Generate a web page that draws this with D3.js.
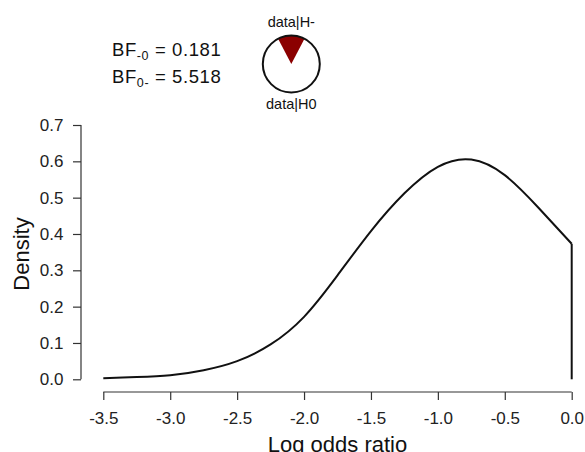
<!DOCTYPE html>
<html>
<head>
<meta charset="utf-8">
<script src="https://cdn.jsdelivr.net/npm/d3@7"></script>
<style>
  body { margin: 0; background: #fff; }
  svg { font-family: "Liberation Sans", Arial, sans-serif; }
</style>
</head>
<body>
<svg id="chart" width="585" height="452"></svg>
<script>
// posterior density
const logOdds = [-3.5, -3.25, -3.0, -2.75, -2.5, -2.25, -2.0, -1.75, -1.5, -1.25, -1.0, -0.75, -0.5, -0.25, 0.0];
const density = [0.003, 0.006, 0.011, 0.025, 0.05, 0.096, 0.172, 0.286, 0.408, 0.512, 0.585, 0.605, 0.562, 0.473, 0.373];
const xTicks = [-3.5, -3.0, -2.5, -2.0, -1.5, -1.0, -0.5, 0.0];
const yTicks = [0.0, 0.1, 0.2, 0.3, 0.4, 0.5, 0.6, 0.7];
const bfLabels = [{sub: "-0", value: "0.181"}, {sub: "0-", value: "5.518"}];
const pieLabels = ["data|H-", "data|H0"];
const bfMinus0 = 0.181;

const svg = d3.select("#chart");
const x = d3.scaleLinear().domain([-3.5, 0]).range([103.3, 571.7]);
const y = d3.scaleLinear().domain([0, 0.7]).range([379.3, 125]);
const fmt = d => d.toFixed(1); // plain hyphen minus like the original

// x axis, ticks pointing down
const xAxis = svg.append("g").attr("transform", "translate(0,392)")
    .call(d3.axisBottom(x).tickValues(xTicks).tickSize(8).tickPadding(12).tickFormat(fmt));
// y axis, ticks pointing left
const yAxis = svg.append("g").attr("transform", "translate(81,0)")
    .call(d3.axisLeft(y).tickValues(yTicks).tickSize(8).tickPadding(9.5).tickFormat(fmt));

[xAxis, yAxis].forEach(g => {
    g.select(".domain").attr("stroke", "#333").attr("stroke-width", 1.2);
    g.selectAll(".tick line").attr("stroke", "#333").attr("stroke-width", 1.2);
    g.selectAll(".tick text").attr("fill", "#222").style("font-size", "17px")
        .style("font-family", "'Liberation Sans', Arial, sans-serif");
});
// d3 adds outer ticks to the domain path; redraw it as plain line
xAxis.select(".domain").attr("d", `M${x(-3.5)},0H${x(0)}`);
yAxis.select(".domain").attr("d", `M0,${y(0)}V${y(0.7)}`);

// axis titles
svg.append("text")
    .attr("x", x(-1.75)).attr("y", 451.5)
    .attr("text-anchor", "middle")
    .style("font-size", "22px").attr("fill", "#111")
    .text("Log odds ratio");
svg.append("text")
    .attr("transform", "translate(29,254) rotate(-90)")
    .attr("text-anchor", "middle")
    .style("font-size", "22px").attr("fill", "#111")
    .text("Density");

// density curve
const pts = logOdds.map((d, i) => [d, density[i]]);
const line = d3.line().x(d => x(d[0])).y(d => y(d[1])).curve(d3.curveNatural);
svg.append("path")
    .attr("d", line(pts))
    .attr("fill", "none").attr("stroke", "#111").attr("stroke-width", 2);
// drop line at the truncation point
svg.append("line")
    .attr("x1", x(0)).attr("x2", x(0))
    .attr("y1", y(density[density.length - 1])).attr("y2", y(0))
    .attr("stroke", "#111").attr("stroke-width", 2);

// Bayes factor text
bfLabels.forEach((b, i) => {
    const t = svg.append("text")
        .attr("x", 112).attr("y", 56 + i * 27.3)
        .style("font-size", "18.5px").style("letter-spacing", "0.6px").attr("fill", "#111");
    t.append("tspan").text("BF");
    t.append("tspan").attr("dy", 3.5).style("font-size", "12.5px").text(b.sub);
    t.append("tspan").attr("dy", -3.5).text(" = " + b.value);
});

// probability wheel
const cx = 291.3, cy = 64, r = 28.5;
const pH = bfMinus0 / (1 + bfMinus0);
const arc = d3.arc().innerRadius(0).outerRadius(r);
const wheel = svg.append("g").attr("transform", `translate(${cx},${cy})`);
wheel.append("circle").attr("r", r).attr("fill", "#fff");
wheel.append("path")
    .attr("d", arc({startAngle: -Math.PI * pH, endAngle: Math.PI * pH}))
    .attr("fill", "#8b0000");
wheel.append("circle").attr("r", r).attr("fill", "none").attr("stroke", "#111").attr("stroke-width", 2);

svg.append("text").attr("x", cx).attr("y", 27.3).attr("text-anchor", "middle")
    .style("font-size", "14.5px").attr("fill", "#111").text(pieLabels[0]);
svg.append("text").attr("x", cx).attr("y", 109.3).attr("text-anchor", "middle")
    .style("font-size", "14.5px").attr("fill", "#111").text(pieLabels[1]);
</script>
</body>
</html>
